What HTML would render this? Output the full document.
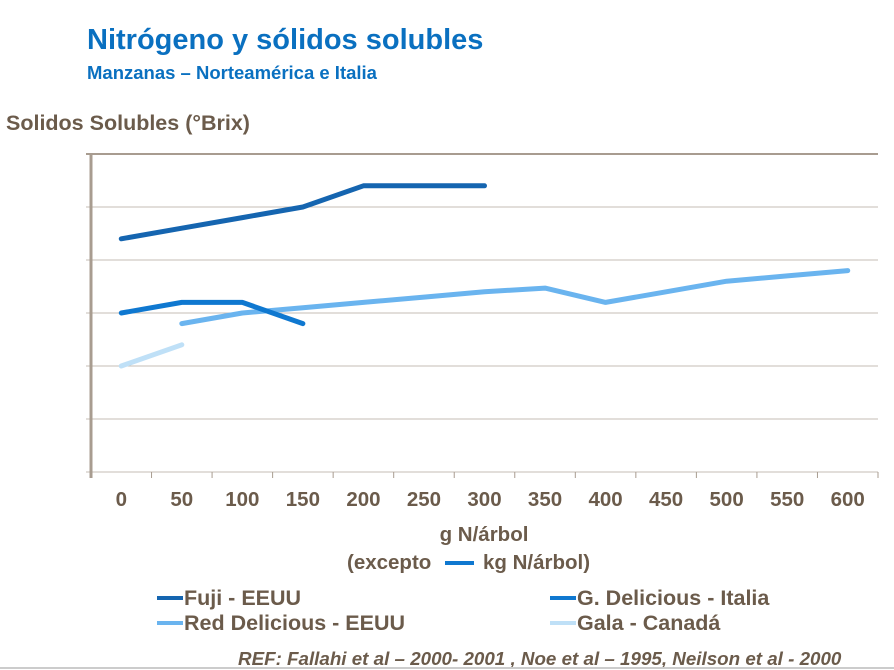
<!DOCTYPE html>
<html><head><meta charset="utf-8"><style>
body{margin:0;width:894px;height:670px;background:#fff;overflow:hidden;font-family:"Liberation Sans",sans-serif;position:relative}
.t{position:absolute;white-space:nowrap;font-weight:bold}
</style></head><body>
<div class="t" style="left:87px;top:24px;font-size:29px;color:#0a70c0">Nitrógeno y sólidos solubles</div>
<div class="t" style="left:87px;top:62px;font-size:18.5px;color:#0a70c0">Manzanas – Norteamérica e Italia</div>
<div class="t" style="left:6px;top:111px;font-size:21.5px;color:#6b5b4b">Solidos Solubles (°Brix)</div>
<svg id="chart" width="894" height="670" style="position:absolute;left:0;top:0">
<g id="grid"></g><g id="xt"></g><g id="lines"></g>
<text x="484" y="541" text-anchor="middle" font-size="20.5" font-weight="bold" fill="#6b5b4b">g N/árbol</text>
<text x="347" y="569" font-size="20.5" font-weight="bold" fill="#6b5b4b">(excepto</text>
<line x1="445" y1="563" x2="474" y2="563" stroke="#0f78d0" stroke-width="4"/>
<text x="483" y="569" font-size="20.5" font-weight="bold" fill="#6b5b4b">kg N/árbol)</text>
<g font-size="21.5" font-weight="bold" fill="#6b5b4b">
<line x1="157" y1="598" x2="183" y2="598" stroke="#1565b0" stroke-width="4"/><text x="184" y="605">Fuji - EEUU</text>
<line x1="550" y1="598" x2="576" y2="598" stroke="#0f78d0" stroke-width="4"/><text x="577" y="605">G. Delicious - Italia</text>
<line x1="157" y1="623" x2="183" y2="623" stroke="#6ab4ef" stroke-width="4"/><text x="184" y="630">Red Delicious - EEUU</text>
<line x1="550" y1="623" x2="576" y2="623" stroke="#bfe0f7" stroke-width="4"/><text x="577" y="630">Gala - Canadá</text>
</g>
<text x="238" y="665" font-size="18.8" font-weight="bold" font-style="italic" fill="#6b5b4b">REF: Fallahi et al – 2000- 2001 , Noe et al – 1995, Neilson et al - 2000</text>
<line x1="0" y1="668" x2="894" y2="668" stroke="#ccc" stroke-width="2"/>
</svg>
<script>
const categories=[0,50,100,150,200,250,300,350,400,450,500,550,600];
const fuji=[4.4,4.6,4.8,5.0,5.4,5.4,5.4];
const gDelicious=[3.0,3.2,3.2,2.8];
const redDelicious=[null,2.8,3.0,3.1,3.2,3.3,3.4,3.47,3.2,3.4,3.6,3.7,3.8];
const gala=[2.0,2.4];
const yMax=6;
const L=91,R=878,T=154,B=472;
const bw=(R-L)/categories.length;
const x=i=>L+bw*(i+0.5);
const y=v=>B-(v/yMax)*(B-T);
const ns="http://www.w3.org/2000/svg";
function mk(tag,attrs,parent){const e=document.createElementNS(ns,tag);for(const k in attrs)e.setAttribute(k,attrs[k]);parent.appendChild(e);return e;}
const grid=document.getElementById('grid');
for(let k=0;k<=yMax;k++){
 const g=mk('line',{x1:86,x2:R,y1:y(k),y2:y(k),stroke:k==yMax?'#a89c90':'#c4bcb4','stroke-width':k==yMax?2:1},grid);
 
 
}
const ax=mk('line',{x1:L,x2:L,y1:T,y2:B+6,stroke:'#a89c90','stroke-width':3},grid);


const xt=document.getElementById('xt');
categories.forEach((c,i)=>{
 const tk=mk('line',{x1:L+bw*(i+1),x2:L+bw*(i+1),y1:B,y2:B+6,stroke:'#a89c90','stroke-width':1},xt);
 
 
 const t=mk('text',{x:x(i),y:B+34,'text-anchor':'middle','font-size':20.5,'font-weight':'bold',fill:'#6b5b4b'},xt);
 t.textContent=c;
 
 
});
const lines=document.getElementById('lines');
function series(vals,color,name){
 const pts=[];vals.forEach((v,i)=>{if(v!=null)pts.push(x(i)+','+y(v));});
 const p=mk('polyline',{points:pts.join(' '),fill:'none',stroke:color,'stroke-width':5,'stroke-linecap':'round','stroke-linejoin':'round'},lines);
 
 
}
series(gala,'#bfe0f7','series-gala-canada');
series(redDelicious,'#6ab4ef','series-red-delicious-eeuu');
series(gDelicious,'#0f78d0','series-g-delicious-italia');
series(fuji,'#1565b0','series-fuji-eeuu');
</script>
</body></html>
